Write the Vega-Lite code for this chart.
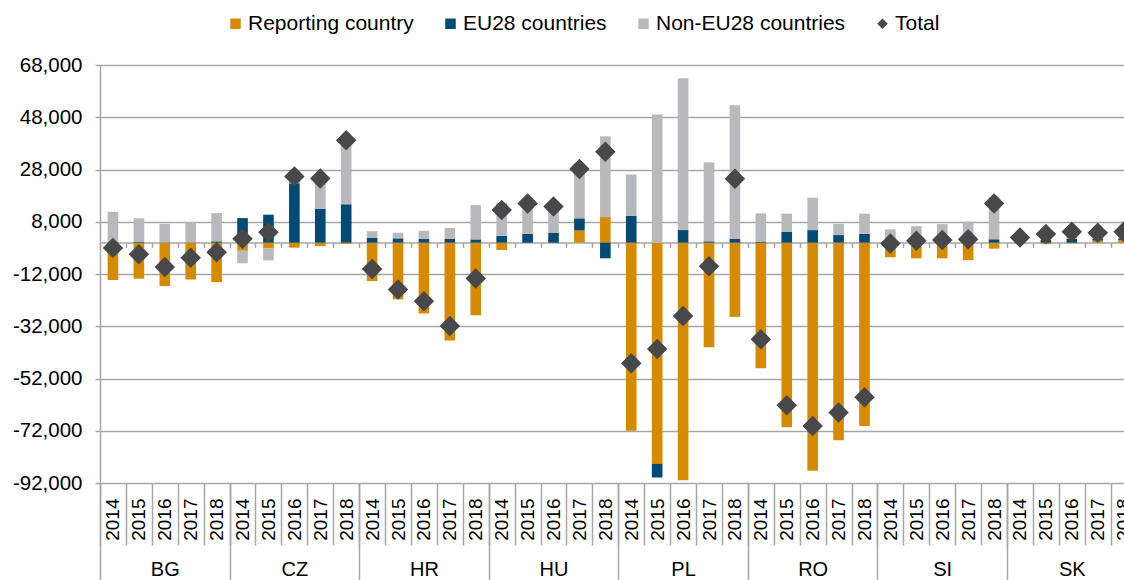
{
  "$schema": "https://vega.github.io/schema/vega-lite/v6.json",
  "width": 1024,
  "height": 418,
  "autosize": {"type": "none"},
  "padding": {"left": 100, "top": 65, "right": 0, "bottom": 97},
  "config": {
    "view": {"stroke": null},
    "font": "Liberation Sans",
    "axis": {"labelFont": "Liberation Sans", "labelColor": "#000000"},
    "legend": {"labelFont": "Liberation Sans"}
  },
  "data": {
    "values": [
      {"country": "BG", "year": "2014", "series": "Reporting country", "value": -14300},
      {"country": "BG", "year": "2014", "series": "EU28 countries", "value": 200},
      {"country": "BG", "year": "2014", "series": "Non-EU28 countries", "value": 11600},
      {"country": "BG", "year": "2014", "series": "Total", "value": -2000},
      {"country": "BG", "year": "2015", "series": "Reporting country", "value": -13800},
      {"country": "BG", "year": "2015", "series": "EU28 countries", "value": 400},
      {"country": "BG", "year": "2015", "series": "Non-EU28 countries", "value": 8900},
      {"country": "BG", "year": "2015", "series": "Total", "value": -4400},
      {"country": "BG", "year": "2016", "series": "Reporting country", "value": -16600},
      {"country": "BG", "year": "2016", "series": "EU28 countries", "value": 100},
      {"country": "BG", "year": "2016", "series": "Non-EU28 countries", "value": 7100},
      {"country": "BG", "year": "2016", "series": "Total", "value": -9300},
      {"country": "BG", "year": "2017", "series": "Reporting country", "value": -14100},
      {"country": "BG", "year": "2017", "series": "EU28 countries", "value": 100},
      {"country": "BG", "year": "2017", "series": "Non-EU28 countries", "value": 7800},
      {"country": "BG", "year": "2017", "series": "Total", "value": -5800},
      {"country": "BG", "year": "2018", "series": "Reporting country", "value": -15100},
      {"country": "BG", "year": "2018", "series": "EU28 countries", "value": 500},
      {"country": "BG", "year": "2018", "series": "Non-EU28 countries", "value": 10800},
      {"country": "BG", "year": "2018", "series": "Total", "value": -3700},
      {"country": "CZ", "year": "2014", "series": "Reporting country", "value": -3100},
      {"country": "CZ", "year": "2014", "series": "EU28 countries", "value": 9400},
      {"country": "CZ", "year": "2014", "series": "Non-EU28 countries", "value": -4800},
      {"country": "CZ", "year": "2014", "series": "Total", "value": 1500},
      {"country": "CZ", "year": "2015", "series": "Reporting country", "value": -2200},
      {"country": "CZ", "year": "2015", "series": "EU28 countries", "value": 10700},
      {"country": "CZ", "year": "2015", "series": "Non-EU28 countries", "value": -4600},
      {"country": "CZ", "year": "2015", "series": "Total", "value": 4000},
      {"country": "CZ", "year": "2016", "series": "Reporting country", "value": -1900},
      {"country": "CZ", "year": "2016", "series": "EU28 countries", "value": 22700},
      {"country": "CZ", "year": "2016", "series": "Non-EU28 countries", "value": 4500},
      {"country": "CZ", "year": "2016", "series": "Total", "value": 25300},
      {"country": "CZ", "year": "2017", "series": "Reporting country", "value": -1300},
      {"country": "CZ", "year": "2017", "series": "EU28 countries", "value": 12900},
      {"country": "CZ", "year": "2017", "series": "Non-EU28 countries", "value": 13000},
      {"country": "CZ", "year": "2017", "series": "Total", "value": 24600},
      {"country": "CZ", "year": "2018", "series": "Reporting country", "value": -500},
      {"country": "CZ", "year": "2018", "series": "EU28 countries", "value": 14700},
      {"country": "CZ", "year": "2018", "series": "Non-EU28 countries", "value": 25100},
      {"country": "CZ", "year": "2018", "series": "Total", "value": 39200},
      {"country": "HR", "year": "2014", "series": "Reporting country", "value": -14700},
      {"country": "HR", "year": "2014", "series": "EU28 countries", "value": 1900},
      {"country": "HR", "year": "2014", "series": "Non-EU28 countries", "value": 2500},
      {"country": "HR", "year": "2014", "series": "Total", "value": -10100},
      {"country": "HR", "year": "2015", "series": "Reporting country", "value": -21700},
      {"country": "HR", "year": "2015", "series": "EU28 countries", "value": 1650},
      {"country": "HR", "year": "2015", "series": "Non-EU28 countries", "value": 2150},
      {"country": "HR", "year": "2015", "series": "Total", "value": -17900},
      {"country": "HR", "year": "2016", "series": "Reporting country", "value": -27100},
      {"country": "HR", "year": "2016", "series": "EU28 countries", "value": 1500},
      {"country": "HR", "year": "2016", "series": "Non-EU28 countries", "value": 3050},
      {"country": "HR", "year": "2016", "series": "Total", "value": -22400},
      {"country": "HR", "year": "2017", "series": "Reporting country", "value": -37500},
      {"country": "HR", "year": "2017", "series": "EU28 countries", "value": 1400},
      {"country": "HR", "year": "2017", "series": "Non-EU28 countries", "value": 4200},
      {"country": "HR", "year": "2017", "series": "Total", "value": -31900},
      {"country": "HR", "year": "2018", "series": "Reporting country", "value": -27800},
      {"country": "HR", "year": "2018", "series": "EU28 countries", "value": 1250},
      {"country": "HR", "year": "2018", "series": "Non-EU28 countries", "value": 13100},
      {"country": "HR", "year": "2018", "series": "Total", "value": -13700},
      {"country": "HU", "year": "2014", "series": "Reporting country", "value": -2800},
      {"country": "HU", "year": "2014", "series": "EU28 countries", "value": 2600},
      {"country": "HU", "year": "2014", "series": "Non-EU28 countries", "value": 12700},
      {"country": "HU", "year": "2014", "series": "Total", "value": 12500},
      {"country": "HU", "year": "2015", "series": "Reporting country", "value": 0},
      {"country": "HU", "year": "2015", "series": "EU28 countries", "value": 3400},
      {"country": "HU", "year": "2015", "series": "Non-EU28 countries", "value": 11600},
      {"country": "HU", "year": "2015", "series": "Total", "value": 15000},
      {"country": "HU", "year": "2016", "series": "Reporting country", "value": 0},
      {"country": "HU", "year": "2016", "series": "EU28 countries", "value": 3700},
      {"country": "HU", "year": "2016", "series": "Non-EU28 countries", "value": 10100},
      {"country": "HU", "year": "2016", "series": "Total", "value": 13800},
      {"country": "HU", "year": "2017", "series": "Reporting country", "value": 4700},
      {"country": "HU", "year": "2017", "series": "EU28 countries", "value": 4600},
      {"country": "HU", "year": "2017", "series": "Non-EU28 countries", "value": 18900},
      {"country": "HU", "year": "2017", "series": "Total", "value": 28200},
      {"country": "HU", "year": "2018", "series": "Reporting country", "value": 9800},
      {"country": "HU", "year": "2018", "series": "EU28 countries", "value": -6000},
      {"country": "HU", "year": "2018", "series": "Non-EU28 countries", "value": 30900},
      {"country": "HU", "year": "2018", "series": "Total", "value": 34800},
      {"country": "PL", "year": "2014", "series": "Reporting country", "value": -72000},
      {"country": "PL", "year": "2014", "series": "EU28 countries", "value": 10300},
      {"country": "PL", "year": "2014", "series": "Non-EU28 countries", "value": 15800},
      {"country": "PL", "year": "2014", "series": "Total", "value": -46200},
      {"country": "PL", "year": "2015", "series": "Reporting country", "value": -84700},
      {"country": "PL", "year": "2015", "series": "EU28 countries", "value": -5200},
      {"country": "PL", "year": "2015", "series": "Non-EU28 countries", "value": 49100},
      {"country": "PL", "year": "2015", "series": "Total", "value": -40700},
      {"country": "PL", "year": "2016", "series": "Reporting country", "value": -90900},
      {"country": "PL", "year": "2016", "series": "EU28 countries", "value": 4800},
      {"country": "PL", "year": "2016", "series": "Non-EU28 countries", "value": 58100},
      {"country": "PL", "year": "2016", "series": "Total", "value": -28100},
      {"country": "PL", "year": "2017", "series": "Reporting country", "value": -40000},
      {"country": "PL", "year": "2017", "series": "EU28 countries", "value": 500},
      {"country": "PL", "year": "2017", "series": "Non-EU28 countries", "value": 30200},
      {"country": "PL", "year": "2017", "series": "Total", "value": -9000},
      {"country": "PL", "year": "2018", "series": "Reporting country", "value": -28400},
      {"country": "PL", "year": "2018", "series": "EU28 countries", "value": 1500},
      {"country": "PL", "year": "2018", "series": "Non-EU28 countries", "value": 51100},
      {"country": "PL", "year": "2018", "series": "Total", "value": 24500},
      {"country": "RO", "year": "2014", "series": "Reporting country", "value": -48100},
      {"country": "RO", "year": "2014", "series": "EU28 countries", "value": 400},
      {"country": "RO", "year": "2014", "series": "Non-EU28 countries", "value": 10800},
      {"country": "RO", "year": "2014", "series": "Total", "value": -37000},
      {"country": "RO", "year": "2015", "series": "Reporting country", "value": -70700},
      {"country": "RO", "year": "2015", "series": "EU28 countries", "value": 4200},
      {"country": "RO", "year": "2015", "series": "Non-EU28 countries", "value": 6900},
      {"country": "RO", "year": "2015", "series": "Total", "value": -62200},
      {"country": "RO", "year": "2016", "series": "Reporting country", "value": -87300},
      {"country": "RO", "year": "2016", "series": "EU28 countries", "value": 4800},
      {"country": "RO", "year": "2016", "series": "Non-EU28 countries", "value": 12400},
      {"country": "RO", "year": "2016", "series": "Total", "value": -70200},
      {"country": "RO", "year": "2017", "series": "Reporting country", "value": -75600},
      {"country": "RO", "year": "2017", "series": "EU28 countries", "value": 2900},
      {"country": "RO", "year": "2017", "series": "Non-EU28 countries", "value": 4300},
      {"country": "RO", "year": "2017", "series": "Total", "value": -65000},
      {"country": "RO", "year": "2018", "series": "Reporting country", "value": -70200},
      {"country": "RO", "year": "2018", "series": "EU28 countries", "value": 3400},
      {"country": "RO", "year": "2018", "series": "Non-EU28 countries", "value": 7700},
      {"country": "RO", "year": "2018", "series": "Total", "value": -59200},
      {"country": "SI", "year": "2014", "series": "Reporting country", "value": -5600},
      {"country": "SI", "year": "2014", "series": "EU28 countries", "value": 100},
      {"country": "SI", "year": "2014", "series": "Non-EU28 countries", "value": 5000},
      {"country": "SI", "year": "2014", "series": "Total", "value": -300},
      {"country": "SI", "year": "2015", "series": "Reporting country", "value": -6000},
      {"country": "SI", "year": "2015", "series": "EU28 countries", "value": 100},
      {"country": "SI", "year": "2015", "series": "Non-EU28 countries", "value": 6200},
      {"country": "SI", "year": "2015", "series": "Total", "value": 700},
      {"country": "SI", "year": "2016", "series": "Reporting country", "value": -6000},
      {"country": "SI", "year": "2016", "series": "EU28 countries", "value": 100},
      {"country": "SI", "year": "2016", "series": "Non-EU28 countries", "value": 7000},
      {"country": "SI", "year": "2016", "series": "Total", "value": 1000},
      {"country": "SI", "year": "2017", "series": "Reporting country", "value": -6700},
      {"country": "SI", "year": "2017", "series": "EU28 countries", "value": 100},
      {"country": "SI", "year": "2017", "series": "Non-EU28 countries", "value": 7900},
      {"country": "SI", "year": "2017", "series": "Total", "value": 1300},
      {"country": "SI", "year": "2018", "series": "Reporting country", "value": -2300},
      {"country": "SI", "year": "2018", "series": "EU28 countries", "value": 1300},
      {"country": "SI", "year": "2018", "series": "Non-EU28 countries", "value": 16100},
      {"country": "SI", "year": "2018", "series": "Total", "value": 15000},
      {"country": "SK", "year": "2014", "series": "Reporting country", "value": -300},
      {"country": "SK", "year": "2014", "series": "EU28 countries", "value": 600},
      {"country": "SK", "year": "2014", "series": "Non-EU28 countries", "value": 1700},
      {"country": "SK", "year": "2014", "series": "Total", "value": 2000},
      {"country": "SK", "year": "2015", "series": "Reporting country", "value": -600},
      {"country": "SK", "year": "2015", "series": "EU28 countries", "value": 1000},
      {"country": "SK", "year": "2015", "series": "Non-EU28 countries", "value": 2900},
      {"country": "SK", "year": "2015", "series": "Total", "value": 3300},
      {"country": "SK", "year": "2016", "series": "Reporting country", "value": -300},
      {"country": "SK", "year": "2016", "series": "EU28 countries", "value": 1500},
      {"country": "SK", "year": "2016", "series": "Non-EU28 countries", "value": 3000},
      {"country": "SK", "year": "2016", "series": "Total", "value": 4200},
      {"country": "SK", "year": "2017", "series": "Reporting country", "value": 800},
      {"country": "SK", "year": "2017", "series": "EU28 countries", "value": 700},
      {"country": "SK", "year": "2017", "series": "Non-EU28 countries", "value": 2300},
      {"country": "SK", "year": "2017", "series": "Total", "value": 3800},
      {"country": "SK", "year": "2018", "series": "Reporting country", "value": 900},
      {"country": "SK", "year": "2018", "series": "EU28 countries", "value": 800},
      {"country": "SK", "year": "2018", "series": "Non-EU28 countries", "value": 2500},
      {"country": "SK", "year": "2018", "series": "Total", "value": 4200}
    ]
  },
  "transform": [
    {"calculate": "datum.country + ' ' + datum.year", "as": "key"},
    {"calculate": "indexof(['Reporting country','EU28 countries','Non-EU28 countries','Total'], datum.series)", "as": "ord"}
  ],
  "layer": [
    {
      "transform": [{"filter": "datum.series != 'Total'"}],
      "mark": {"type": "bar", "width": {"band": 0.41}},
      "encoding": {
        "x": {
          "field": "key", "type": "nominal",
          "scale": {"type": "band", "range": [0, 1036.6], "paddingInner": 0, "paddingOuter": 0},
          "axis": {
            "orient": "bottom",
            "title": null, "labelExpr": "slice(datum.label, -4)", "labelAngle": -90,
            "labelFontSize": 19, "tickBand": "extent", "tickSize": 62, "tickColor": "#a6a6a6",
            "tickWidth": 1.5, "labelPadding": -47, "domain": false, "grid": false
          }
        },
        "y": {
          "field": "value", "type": "quantitative", "stack": "zero",
          "scale": {"domain": [-92000, 68000], "nice": false, "zero": false},
          "axis": {
            "title": null,
            "values": [-92000, -72000, -52000, -32000, -12000, 8000, 28000, 48000, 68000],
            "format": ",d",
            "labelExpr": "replace(datum.label, '\u2212', '-')",
            "labelFontSize": 20.5, "labelPadding": 13, "tickSize": 5, "tickColor": "#a6a6a6", "tickWidth": 1.5,
            "domain": true, "domainColor": "#a6a6a6", "domainWidth": 1.5,
            "grid": true, "gridColor": "#a6a6a6", "gridWidth": 1.5
          }
        },
        "color": {
          "field": "series", "type": "nominal",
          "scale": {
            "domain": ["Reporting country", "EU28 countries", "Non-EU28 countries", "Total"],
            "range": ["#d68a00", "#004a73", "#b8b9bc", "#48484a"]
          },
          "legend": {
            "title": null, "orient": "none", "direction": "horizontal", "legendX": 125, "legendY": -52,
            "labelFontSize": 21, "labelColor": "#000000", "labelLimit": 400, "symbolSize": 110, "labelOffset": 2,
            "columnPadding": 26, "symbolStrokeWidth": 0, "symbolOpacity": 1
          }
        },
        "order": {"field": "ord", "type": "quantitative"}
      }
    },
    {
      "transform": [{"filter": "datum.series == 'Total'"}],
      "mark": {"type": "point", "filled": true, "opacity": 1, "size": 420},
      "encoding": {
        "x": {
          "field": "key", "type": "nominal",
          "scale": {"type": "band", "range": [0, 1036.6], "paddingInner": 0, "paddingOuter": 0},
          "axis": {
            "orient": "bottom",
            "title": null, "labels": false, "tickBand": "extent", "tickSize": 5, "tickColor": "#a6a6a6",
            "tickWidth": 1.5, "domain": true, "domainColor": "#a6a6a6", "domainWidth": 1.5,
            "offset": -240.4, "grid": false
          }
        },
        "y": {"field": "value", "type": "quantitative"},
        "color": {"field": "series", "type": "nominal"},
        "shape": {
          "field": "series", "type": "nominal",
          "scale": {
            "domain": ["Reporting country", "EU28 countries", "Non-EU28 countries", "Total"],
            "range": ["square", "square", "square", "diamond"]
          }
        }
      }
    },
    {
      "mark": {"type": "point", "opacity": 0},
      "encoding": {
        "x": {
          "field": "country", "type": "nominal",
          "scale": {"type": "band", "range": [0, 1036.6], "paddingInner": 0, "paddingOuter": 0},
          "axis": {
            "orient": "bottom",
            "title": null, "labelAngle": 0, "labelFontSize": 20, "tickBand": "extent", "tickSize": 97,
            "tickColor": "#a6a6a6", "tickWidth": 1.5, "labelPadding": -21, "labelBaseline": "top",
            "domain": false, "grid": false
          }
        },
        "y": {"datum": 0}
      }
    }
  ],
  "resolve": {"scale": {"x": "independent"}, "axis": {"x": "independent"}}
}
